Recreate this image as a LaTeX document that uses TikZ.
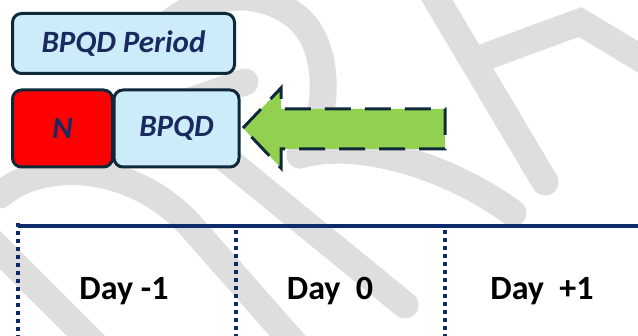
\documentclass[tikz,border=0pt]{standalone}
\usepackage{fontspec}
\setmainfont{Carlito}
\usepackage{xcolor}
\usetikzlibrary{positioning}

\definecolor{boxblue}{HTML}{CCECFA}
\definecolor{boxline}{HTML}{10293A}
\definecolor{textnavy}{HTML}{1A2A5E}
\definecolor{arrowgreen}{HTML}{92D050}
\definecolor{linenavy}{HTML}{0D2A6B}
\definecolor{draftgray}{HTML}{DEDEDE}

\begin{document}
\begin{tikzpicture}[x=1pt, y=-1pt,
		box/.style={draw=boxline, line width=3pt, rounded corners=9pt, fill=boxblue,
			inner sep=0pt, text=textnavy, font=\fontsize{31}{36}\selectfont\bfseries\itshape},
		daylabel/.style={anchor=base, font=\fontsize{34}{40}\selectfont\bfseries},
		wmark/.style={draftgray, line width=27pt, line cap=round},
		dayline/.style={linenavy, line width=4pt, dash pattern=on 4pt off 4pt}]
		\useasboundingbox (0,0) rectangle (638,336);

		% watermark strokes
		\draw[wmark] (0,195) .. controls (40,160) and (130,160) .. (190,225) -- (300,350);
		\draw[wmark] (-20,230) -- (100,350);
		\draw[wmark] (215,150) -- (405,305);
		\draw[wmark] (150,115) -- (245,82);
		\draw[wmark] (140,60) .. controls (170,0) and (250,-25) .. (300,20) .. controls (332,50) and (330,125) .. (300,155);
		\draw[wmark] (300,155) .. controls (350,140) and (440,160) .. (513,213);
		\draw[wmark] (425,-20) -- (545,182);
		\draw[wmark] (482,58) -- (580,22) -- (660,70);

		% boxes
		\node[box, minimum width=222pt, minimum height=60pt] (period) at (123.5,43.5) {BPQD Period};
		\node[box, fill=red, minimum width=100pt, minimum height=77pt] (nbox) at (62.5,128.5) {N};
		\node[box, right=-1.5pt of nbox, minimum width=125pt, minimum height=77pt] (bpqd) {BPQD};

		% arrow into BPQD
		\coordinate (tip) at (243,128);
		\draw[boxline, fill=arrowgreen, line width=3pt, dash pattern=on 26pt off 14pt]
			(tip) -- (281,88) -- (281,109) -- (445,109) -- (445,149) -- (281,149) -- (281,168) -- cycle;

		% timeline
		\coordinate (t0) at (18,226);
		\coordinate (t1) at (638,226);
		\draw[linenavy, line width=3.5pt] (t0) -- (t1);
		\draw[dayline] (18,223) -- (18,340);
		\draw[dayline] (236,230) -- (236,340);
		\draw[dayline] (445,230) -- (445,340);

		\node[daylabel] (dayA) at (124,300) {Day -1};
		\node[daylabel] (dayB) at (330,300) {Day\ \ 0};
		\node[daylabel] (dayC) at (542,300) {Day\ \ +1};
	\end{tikzpicture}
\end{document}
